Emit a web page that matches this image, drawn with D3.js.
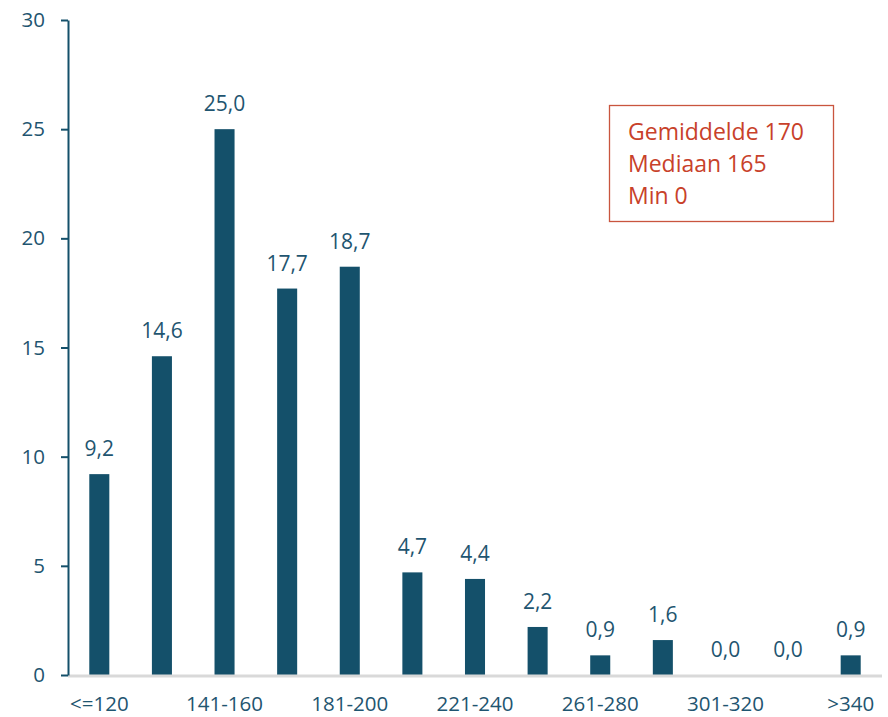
<!DOCTYPE html>
<html>
<head>
<meta charset="utf-8">
<script src="https://cdnjs.cloudflare.com/ajax/libs/d3/7.8.5/d3.min.js"></script>
<style>
body { margin: 0; background: #fff; }
text { font-family: "Open Sans", sans-serif; }
</style>
</head>
<body>
<script>
var categories = ["<=120", "121-140", "141-160", "161-180", "181-200", "201-220", "221-240",
	"241-260", "261-280", "281-300", "301-320", "321-340", ">340"];
var values = [9.2, 14.6, 25.0, 17.7, 18.7, 4.7, 4.4, 2.2, 0.9, 1.6, 0.0, 0.0, 0.9];
var yTicks = [0, 5, 10, 15, 20, 25, 30];
var statLines = ["Gemiddelde 170", "Mediaan 165", "Min 0"];

var width = 888, height = 717;
var teal = "#14506a", textCol = "#1f5570", red = "#c8412a";

var svg = d3.select("body").append("svg")
	.attr("width", width)
	.attr("height", height);

var x = d3.scaleBand()
	.domain(categories)
	.range([68, 882])
	.paddingInner(0.68)
	.paddingOuter(0.34);

var y = d3.scaleLinear()
	.domain([0, 30])
	.range([675, 20]);

// bars
svg.selectAll("rect.bar")
	.data(values)
	.enter().append("rect")
		.attr("class", "bar")
		.attr("x", function(d, i) { return x(categories[i]); })
		.attr("width", x.bandwidth())
		.attr("y", function(d) { return y(d); })
		.attr("height", function(d) { return y(0) - y(d); })
		.style("fill", teal);

// value labels
svg.selectAll("text.val")
	.data(values)
	.enter().append("text")
		.attr("class", "val")
		.attr("x", function(d, i) { return x(categories[i]) + x.bandwidth() / 2; })
		.attr("y", function(d) { return y(d) - 18; })
		.attr("text-anchor", "middle")
		.attr("font-size", "21px")
		.attr("fill", textCol)
		.text(function(d) { return d.toFixed(1).replace(".", ","); });

// x axis line
svg.append("line")
	.attr("x1", 68).attr("x2", 882)
	.attr("y1", y(0) + 1).attr("y2", y(0) + 1)
	.style("stroke", "#d9d9d9")
	.style("stroke-width", 3);

// x labels, every other category
svg.selectAll("text.xl")
	.data(categories.filter(function(d, i) { return i % 2 == 0; }))
	.enter().append("text")
		.attr("class", "xl")
		.attr("x", function(d) { return x(d) + x.bandwidth() / 2; })
		.attr("y", 711)
		.attr("text-anchor", "middle")
		.attr("font-size", "20.5px")
		.attr("fill", textCol)
		.text(function(d) { return d; });

// y axis
var yAxis = svg.append("g")
	.attr("transform", "translate(68,0)")
	.call(d3.axisLeft(y).tickValues(yTicks).tickSize(7).tickPadding(16).tickSizeOuter(0));
yAxis.select(".domain").style("stroke", teal).style("stroke-width", 2);
yAxis.selectAll(".tick line").style("stroke", teal).style("stroke-width", 2);
yAxis.selectAll(".tick text")
	.attr("font-size", "20.5px")
	.attr("font-family", "Open Sans, sans-serif")
	.attr("fill", textCol);

// stats box
svg.append("rect")
	.attr("x", 609.5).attr("y", 105.5)
	.attr("width", 224).attr("height", 116)
	.style("fill", "#fff")
	.style("stroke", "#c9553e")
	.style("stroke-width", 1.3);

svg.selectAll("text.stat")
	.data(statLines)
	.enter().append("text")
		.attr("class", "stat")
		.attr("x", 628)
		.attr("y", function(d, i) { return 140 + i * 32; })
		.attr("font-size", "23px")
		.attr("fill", red)
		.text(function(d) { return d; });
</script>
</body>
</html>
